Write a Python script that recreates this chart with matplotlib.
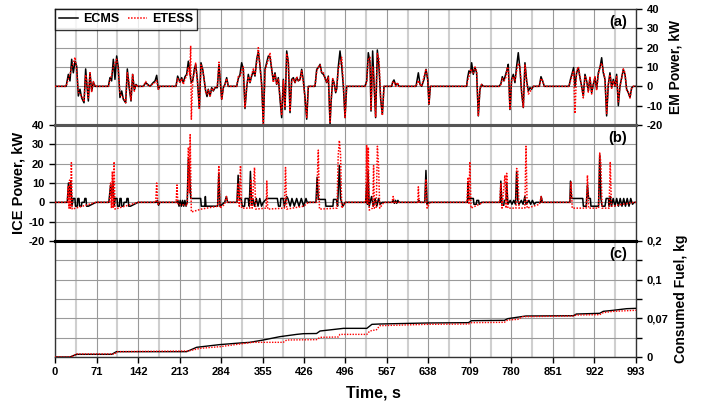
import matplotlib
matplotlib.use("Agg")
import matplotlib.pyplot as plt
import numpy as np

plt.rcParams['font.family'] = ['Liberation Sans', 'DejaVu Sans']
plt.rcParams['font.weight'] = 'bold'
plt.rcParams['axes.unicode_minus'] = False

# ---------------- data ----------------
x_ticks = [0, 71, 142, 213, 284, 355, 426, 496, 567, 638, 709, 780, 851, 922, 993]

# EM power (kW), common time base
em_t = [0, 19, 22.8, 25.6, 28.5, 31.3, 34.2, 37, 39.9, 42.7, 45.6, 49.6, 52.4, 54.7, 57, 59.8, 62.7, 65.5, 68.4,
        91.2, 94, 96.8, 99.7, 102.5, 105.4, 108.2, 111, 114, 116.8, 120.8, 123.6, 126.5, 129.9, 132.7, 135.6, 138.4, 141.3,
        151, 155, 158.4, 162.4, 168, 171, 173.8, 176.6, 178.9,
        206.8, 209.6, 213.6, 216.5, 219.3, 222.2, 225, 227.9, 230.2, 231.9, 233, 235.3, 238.1, 240.4, 243.3, 246.7,
        249.5, 252.4, 254.7, 257.5, 259.8, 262, 265, 267.8, 270.6, 273.5, 277.4, 280.3, 282.6, 284.9, 287.7, 290.5,
        293.4, 296.2, 310.5, 313.3, 316.2, 319, 321.9, 324.7, 327.6, 330.4, 333.3, 336.1, 339, 341.8, 344.7, 347.5,
        350.4, 353.2, 356.1, 358.9, 361.8, 364.6, 367.5, 370.3, 373.2, 376, 378.9, 381.7, 384.6, 387.4, 390.3, 393.1,
        396, 398.8, 401.7, 404.5, 407.4, 410.2, 413.1, 415.9, 418.8, 421.6, 424.5, 427.3, 430.2, 433,
        444.4, 447.3, 450.1, 453, 455.8, 458.7, 461.5, 464.4, 467.2, 470.1, 471.8, 474.6, 476.9, 479.7, 481.4, 484.3,
        487.1, 490, 492.8, 495.7, 498.5,
        529.8, 532.7, 535.5, 538.4, 540.1, 542.9, 545.2, 548, 550.9, 553.8, 556.6, 559.5, 562.3,
        575.4, 577.1, 579.4, 582.3, 585.1, 588,
        617, 621, 623.9, 626.7, 630.7, 634.1, 637, 639.2, 641.5,
        703.5, 705.2, 707.5, 710.4, 712.1, 714.9, 717.8, 720.6, 723.5, 726.3, 729.2, 732,
        759.4, 762.2, 764.5, 767.3, 770.2, 773, 774.7, 777.6, 780.4, 783.3, 786.1, 789, 791.8, 794.7, 797.5, 800.4,
        803.2, 806.1, 809, 811.8, 814.6, 817.5,
        827.7, 830.6, 833.4, 836.3,
        878.4, 881.3, 884.1, 886.4, 888.7, 891.5, 894.4, 897.2, 900.1, 902.9, 905.8, 908.6, 911.5, 914.3, 917.2, 920,
        922.9, 925.7, 928.6, 931.4, 934.3, 937.1, 940, 942.8, 945.7, 948.5, 951.4, 954.2, 957.1, 959.9, 962.8, 965.6,
        968.5, 971.3, 974.2, 977, 979.9, 982.7, 985.6, 988.4, 993]
em_ecms = [0, 0, 6.2, 2.8, 14, 7, 13, 10.5, -5, -1.5, -6, -8.5, 9, 0, -7.6, 7, -2.4, 2.2, 0,
           0, 4.5, 2.8, 14, 3.6, 15.7, 9.7, -5.8, -2.4, -6.7, -8.5, 9, 0, -7.6, 6.2, -1.9, 1, 0,
           0, 1.9, 1, 0, 2, 2.8, 5.7, -1.5, 0,
           0, 5.3, 2.2, 4.5, 1.9, 5, 6.2, 13, 8.8, 3.6, 2, 2.8, 8.8, 11.4, 3.6, -11,
           12.2, 8.8, 4, -2.4, -5.3, -1.5, -5, -0.7, -2.4, -0.7, -0.7, 11.4, 1.9, -6.7, -0.7, 1,
           4.5, 0, 0, 4, 6.2, 12.2, 8.8, -11.5, -0.7, 6.2, 1.9, 5.3, 8, 5.3, 14, 18,
           10.5, 1, -19.6, 8.8, 12.2, 15.7, 15, 8.8, 2.8, 7, 1, 4.5, -6.7, -16.2, 3.6, -12,
           18.3, 12.2, -13.6, 3.6, 4.5, 1.9, 4.5, 2.8, 3.6, 8.8, 2.8, -5.8, -17, 0,
           0, 8.8, 9.7, 11.4, 7, 6.2, 4.5, 1.9, 5.3, -19.6, -8.5, 3.6, 1.9, -3.3, -1.5, 10.5,
           18.3, 10.5, 0, -16.2, 0,
           0, 2.8, 17.4, 12.2, -12.8, 18.3, 1.9, -16.2, 18.8, 9.7, -6.7, -14.5, 0,
           0, 2.2, 3.3, 0.5, 1.5, 0,
           0, 7, 1, 0, 3.6, 8.8, 3.6, -9.3, 0,
           0, 4.5, 8, 7, 12.2, 6.2, 9.7, 7, -15.3, -1.5, 1, 0,
           0, 1.5, 5, 2.8, 6.2, 9, 11.4, -12, 3.6, 6.2, 1.9, 10.5, 17.4, 8.8, -3.3, -11,
           12.2, 2.8, -2.4, -0.7, -1.5, 0,
           0, 5, 2.8, 0,
           0, 4, 7, 9.7, 0, 7, 9.7, 4.5, 0, -5, 6.2, 2.8, -2.4, 4.5, -3.3, 1,
           4.5, -1.5, 7, 9.7, 14.8, 7, 3.6, -15.3, 1, 7, -0.7, 3.6, 0, 6.2, -10, 0,
           4.5, 8.8, 6.2, -1.5, -3.3, -5.8, -0.7, 0, 0]
em_etess = [0, 0, 4, 6, 10, 12, 15, 8, -3, -4, -5, -8, 6, 2, -6, 7.5, -3, 2.5, 0,
            0, 3, 6, 10, 12, 14, 8, -4, -5, -6, -8.5, 7, 2, -7, 6.5, -2.5, 1, 0,
            0, 2.5, 0.5, 0, 1.5, 2, 3, -1.5, 0,
            0, 4, 2, 4, 1, 4, 5, 10, 6, 21, -17, 3, 7, 12, 3, -12,
            11, 9, 4, -3, -4, -2, -5.5, -1, -2, -0.5, 0, 12.5, 2, -7, -1, 1,
            4, 0, 0, 5, 5, 8, 10, -11, 0, 5, 2, 6, 9, 6, 12, 20,
            11, 0, -19.6, 8, 11, 14, 17.4, 9, 2, 6, 1, 4, -6, -15, 3, -11,
            17, 13, -13, 3, 4, 2, 5, 3, 3, 8, 2, -6, -16, 0,
            0, 8, 10, 11, 7, 7, 4, 2, 5, -19, -8, 4, 2, -3, -1, 9,
            12, 15, 2, -16, 0,
            0, 2, 14, 15, -12, 10, 3, -16, 17, 14, -6, -15, 0,
            0, 2, 2.5, 0, 2, 0,
            0, 3, 1, 0, 5, 9, 3, -9, 0,
            0, 3, 5, 9, 8, 7, 10, 8, -15, -1, 1, 0,
            0, 1, 4, 3, 4, 10, 9, -12, 3, 5, 3, 8, 12, 10, -2, -11,
            11, 3, -4, -3, -1, 0,
            0, 4, 3, 0,
            0, 3, 6, 8, -14, 8, 10, 5, 0, -6, 5, 3, -3, 5, -4, 1,
            5, -2, 6, 10, 12, 8, 4, -14, 1, 6, -1, 3, 0, 5, -8, 0,
            4, 9, 7, -2, -3, -6, -1, 0, 0]

# ICE power (kW)
ice_ecms_t = [0, 21, 23, 25, 27, 29, 31, 34, 35, 38, 39, 41, 42, 45, 46, 50, 51, 53, 54, 57, 70,
              92, 95, 97, 99, 101, 103, 106, 107, 110, 111, 113, 114, 117, 118, 122, 123, 125, 126, 129, 142,
              173, 175, 177, 179,
              208, 210, 212, 214, 216, 218, 220, 222, 224, 226, 228, 230, 232, 249, 250, 256, 257, 258, 278,
              280, 282, 290, 293, 295, 311, 313, 315, 318, 320, 324, 325, 330, 332, 334, 336, 338, 341, 344,
              347, 350, 353, 356, 362, 380, 382, 385, 386, 390, 392, 396, 398, 402, 405, 409, 413, 417, 421,
              425, 429, 431, 446, 448, 450, 462, 463, 475, 476, 481, 483, 486, 488, 492, 496,
              531, 533, 534, 535, 537, 541, 544, 547, 550, 553, 556, 559,
              576, 578, 580, 582, 584, 586, 588, 620, 622, 624, 632, 634, 636, 638,
              705, 706, 707, 715, 716, 720, 721, 724, 725, 729,
              761, 762, 764, 767, 768, 771, 772, 774, 778, 781, 784, 787, 789, 791, 793, 797, 800, 803, 805,
              810, 813, 816, 819, 822, 830, 831, 833,
              880, 881, 883, 902, 903, 908, 910, 912, 915, 916, 929, 931, 933, 935, 940, 942, 946, 947, 949,
              951, 954, 957, 960, 963, 966, 969, 972, 975, 978, 981, 984, 987, 990, 993]
ice_ecms = [0, 0, 10, 3, 11, -2, 2, 2, -2, -2, 2, 2, -2, -2, 0, 0, 2, 2, -2, -2, 0,
            0, 9, 3, 11, -2, 2, 2, -2, -2, 2, 2, -2, -2, 0, 0, 2, 2, -2, -2, 0,
            0, 1, -1.5, 0,
            0, 1, -2, 1, -2, 1, -2, 1, -2, 0, 23, 15, 2, 2, -2, -2, 3, -2, -2,
            15, -2, 0, 3, 0, 0, 14, 2, 2, -2, -2, 2, 2, -2, 16, -1, 2, -2, 2,
            -2, 2, -2, 0, 2, 2, -2, -2, 2, 2, -2, 3, 2, -2, 2, -2, 2, -2, 2,
            -2, 2, 0, 0, 13, 1.5, 1.5, -2, -2, 1.5, 1.5, -2, 19, 2, -2, 0,
            0, 10, -1, 16, -2, 3, -2, 2, -2, 2, -1, 0,
            0, 1, -0.5, 1, -0.5, 1, 0, 0, 1, 0, 0, 16.5, -1, 0,
            0, 10, 2, 2, -1, -1, 1, 1, -1, 0,
            0, 11, -1.5, -1.5, 1, 1, 10, -1, 1, -1, 1, -1, 16, 1, -1, 1, -1, 3, -1,
            1, -1, 1, -1, 0, 0, 3, 0,
            0, 11, 2, 2, -2, -2, 9, 2, 2, -2, -2, 24.5, 2, -2, -2, 2, 2, -2, 3,
            -2, 2, -2, 2, -2, 2, -2, 2, -2, 2, -2, 2, -1, 0, 0]

ice_etess_t = [0, 21, 22.5, 24, 25, 26.5, 28, 29.5, 70,
               93, 95, 96.5, 98, 99.5, 101, 102.5, 142,
               172, 173.8, 175.5, 176, 178,
               207, 208.5, 210, 226, 228, 229.5, 231, 233, 250, 278, 280, 282, 290, 293, 295,
               311, 313, 315, 317, 319, 333, 335, 337, 341, 343, 361, 362, 363.5, 392, 394, 396, 425, 433,
               447, 450, 452, 482, 484, 486, 488, 490, 496,
               531, 532.7, 534, 535.5, 537, 543, 544.5, 546, 549, 551, 553, 555, 562,
               576, 578, 580, 583, 620, 621, 622.5, 632, 634, 636, 641,
               704, 706, 707.5, 709, 711, 732,
               760, 762, 764, 769, 771, 772, 774, 788, 789, 791, 793, 803, 805, 807, 828, 831, 833,
               880, 882, 884, 908, 910, 912, 929, 931, 933, 935, 947, 949, 951, 990, 993]
ice_etess = [0, 0, 8, -3, 11.5, -3, 20.5, -3.5, 0,
             0, 10, -3, 16, -3, 21, -3.5, 0,
             0, 10, 0, -1, 0,
             0, 9, -1, -1.5, 28.5, 5, 35, -5, -3.5, -2, 19, -3, -1, 3, 0,
             0, 10, -2, 19, -3, -3, 12, -3, 18, -3.5, -3, 11, -3.5, -3, 18, -3.5, -2, 0,
             0, 27, -3.5, -3, 24, 32, 25, -3, 0,
             0, 29.7, -1, 28.5, -4, -3, 19, -3, -3, 29, 19, -3, 0,
             0, 3, -0.5, 0, 0, 8, 0, 0, 12, -3, 0,
             0, 13, -1, 21, -3, 0,
             0, 10, -3, 14, -3, 15, -3, -3, 17.5, 16, -3, -3, 29, -3, -1, 3, 0,
             0, 10.5, -3, -3, 14, -3, -3, 25.5, 20, -3, -3, 21, -2, 0, 0]

# Consumed fuel (kg)
fuel_ecms_t = [0, 25.6, 37, 96.9, 105, 225, 242, 281, 315.6, 333, 356, 384, 413, 424.5, 447, 453, 493, 533,
               541.6, 555, 635, 706.6, 712, 768, 773.8, 796.6, 805, 886, 891, 931, 937, 954, 977, 993]
fuel_ecms = [0, 0, 0.0046, 0.0046, 0.0092, 0.0092, 0.0167, 0.0213, 0.0241, 0.0253, 0.0293, 0.035, 0.039,
             0.0402, 0.0405, 0.0448, 0.0494, 0.0494, 0.0563, 0.0569, 0.0586, 0.0592, 0.0626, 0.0632, 0.0661,
             0.0695, 0.0707, 0.0712, 0.0741, 0.0753, 0.0787, 0.0805, 0.0833, 0.0839]
fuel_etess_t = [0, 27, 37, 102.6, 106, 228, 248, 282, 316, 338, 390, 396, 447, 453, 484, 487, 533, 538,
                549.6, 555, 635, 706.6, 712, 768, 773.8, 791, 799, 886, 891, 931, 937, 954, 977, 993]
fuel_etess = [0, 0, 0.0052, 0.0052, 0.0092, 0.0104, 0.0149, 0.0178, 0.0224, 0.0253, 0.0253, 0.0293, 0.0299,
              0.0339, 0.0345, 0.039, 0.039, 0.0448, 0.0471, 0.054, 0.0563, 0.0569, 0.0592, 0.0598, 0.0638,
              0.0649, 0.0695, 0.0707, 0.0724, 0.073, 0.0764, 0.0787, 0.0798, 0.0805]
fuel_tick_labels = ['0', '', '0,07', '', '0,1', '', '0,2']

# ---------------- figure ----------------
W, H = 703, 404
fig = plt.figure(figsize=(W / 100, H / 100), dpi=100)
L, R = 55 / W, 636 / W
ph = 116 / H
ax_a = fig.add_axes([L, 1 - 125 / H, R - L, ph])
ax_b = fig.add_axes([L, 1 - 241 / H, R - L, ph])
ax_c = fig.add_axes([L, 1 - 357 / H, R - L, ph])

black = '#000000'
red = '#ff0000'
maj_grid = '#9a9a9a'
min_grid = '#cfcfcf'

def style(ax):
    ax.set_xlim(0, 993)
    ax.set_xticks(x_ticks)
    ax.set_xticks([(x_ticks[i] + x_ticks[i + 1]) / 2 for i in range(len(x_ticks) - 1)], minor=True)
    ax.grid(True, which='major', axis='both', color=maj_grid, lw=0.8, zorder=0)
    ax.grid(True, which='minor', axis='x', color=min_grid, lw=1.5, zorder=0)
    ax.set_axisbelow(True)
    for s in ax.spines.values():
        s.set_linewidth(1.0)
        s.set_color('#333333')
    ax.tick_params(axis='both', which='both', direction='out', labelsize=8, width=1, length=4)
    ax.tick_params(axis='x', which='minor', length=0)

for ax in (ax_a, ax_b, ax_c):
    style(ax)

# Panel (a): EM power
ax_a.plot(em_t, em_ecms, color=black, lw=1.1, label='ECMS', zorder=3)
ax_a.plot(em_t, em_etess, color=red, lw=1.1, ls=(0, (1, 1)), label='ETESS', zorder=4)
ax_a.set_ylim(-20, 40)
ax_a.set_yticks(range(-20, 41, 10))
ax_a.yaxis.tick_right()
ax_a.yaxis.set_label_position('right')
ax_a.set_ylabel('EM Power, kW', fontsize=10, fontweight='bold', labelpad=4)
ax_a.tick_params(axis='x', which='both', bottom=False, labelbottom=False)
ax_a.spines['bottom'].set_linewidth(2.2)
ax_a.spines['bottom'].set_color('#555555')
ax_a.text(0.985, 0.95, '(a)', transform=ax_a.transAxes, ha='right', va='top', fontsize=10.5, fontweight='bold')
leg = ax_a.legend(loc='upper left', bbox_to_anchor=(0, 1), ncol=2, frameon=True, fancybox=False,
                  edgecolor='black', handlelength=1.5, handletextpad=0.4, columnspacing=0.7,
                  borderpad=0.35, borderaxespad=0.0, prop={'weight': 'bold', 'size': 9})
leg.get_frame().set_linewidth(1.0)

# Panel (b): ICE power
ax_b.plot(ice_ecms_t, ice_ecms, color=black, lw=1.1, zorder=3)
ax_b.plot(ice_etess_t, ice_etess, color=red, lw=1.1, ls=(0, (1, 1)), zorder=4)
ax_b.set_ylim(-20, 40)
ax_b.set_yticks(range(-20, 41, 10))
ax_b.tick_params(axis='x', which='both', bottom=False, labelbottom=False)
ax_b.set_ylabel('ICE Power, kW', fontsize=10.5, fontweight='bold', labelpad=2)
ax_b.spines['top'].set_linewidth(2.2)
ax_b.spines['top'].set_color('#555555')
ax_b.spines['bottom'].set_linewidth(2.2)
ax_b.spines['bottom'].set_color('#000000')
ax_b.text(0.985, 0.95, '(b)', transform=ax_b.transAxes, ha='right', va='top', fontsize=10.5, fontweight='bold')

# Panel (c): consumed fuel
ax_c.plot(fuel_ecms_t, fuel_ecms, color=black, lw=1.0, zorder=3)
ax_c.plot(fuel_etess_t, fuel_etess, color=red, lw=1.0, ls=(0, (1, 1)), zorder=4)
ax_c.set_ylim(0, 0.2)
ax_c.set_yticks(np.linspace(0, 0.2, 7))
ax_c.set_yticklabels(fuel_tick_labels)
ax_c.yaxis.tick_right()
ax_c.yaxis.set_label_position('right')
ax_c.set_ylabel('Consumed Fuel, kg', fontsize=10, fontweight='bold', labelpad=4)
ax_c.set_xticklabels([str(v) for v in x_ticks])
ax_c.set_xlabel('Time, s', fontsize=11.5, fontweight='bold')
ax_c.xaxis.set_label_coords((373 - 55) / 581, -(386 - 357) / 116)
ax_c.spines['top'].set_linewidth(2.2)
ax_c.spines['top'].set_color('#000000')
ax_c.text(0.985, 0.95, '(c)', transform=ax_c.transAxes, ha='right', va='top', fontsize=10.5, fontweight='bold')

for ax in (ax_a, ax_b, ax_c):
    for lab in ax.get_xticklabels() + ax.get_yticklabels():
        lab.set_fontweight('bold')

fig.savefig('out.png', dpi=100)
